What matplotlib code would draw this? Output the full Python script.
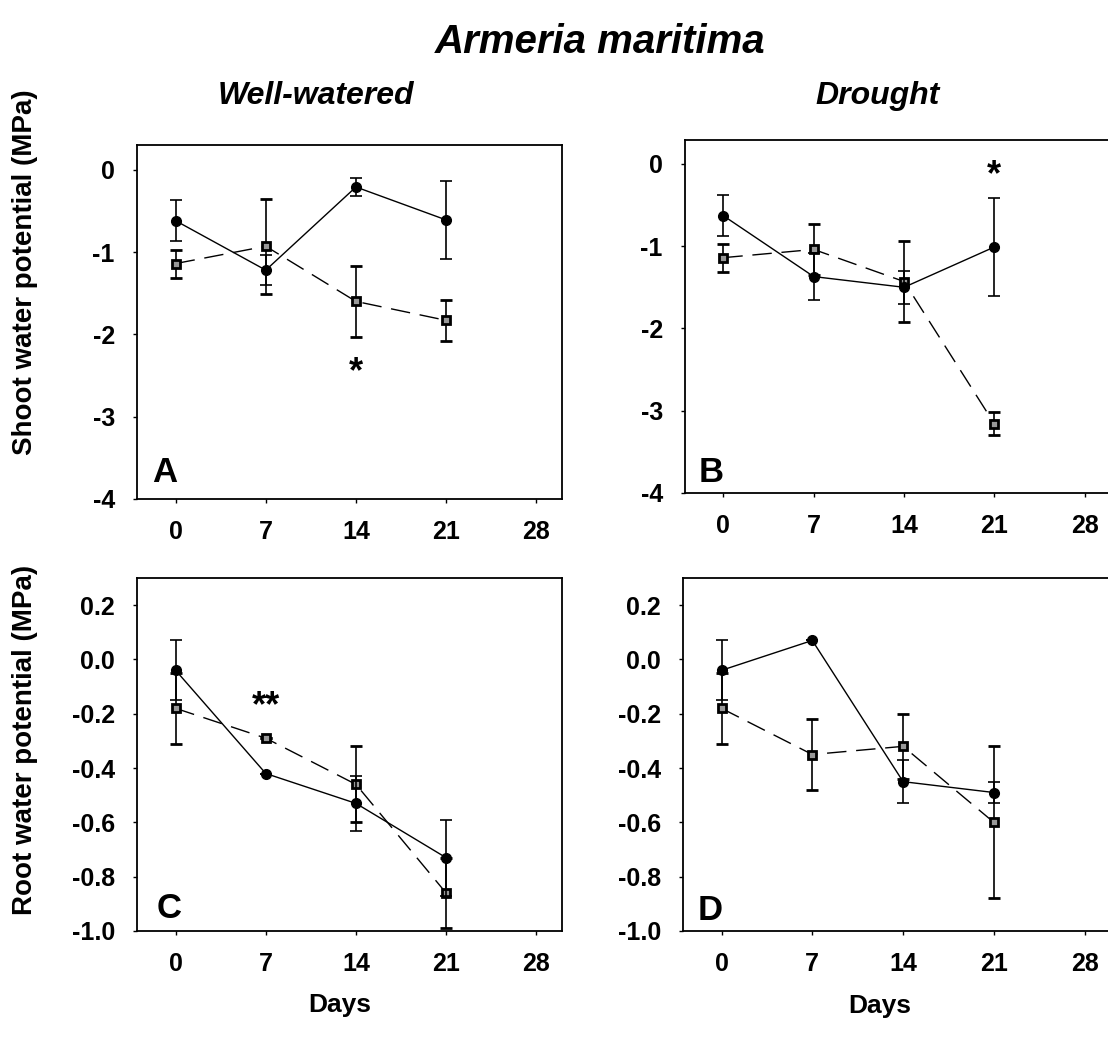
import numpy as np
import matplotlib.pyplot as plt

plt.rcParams['font.family'] = ['Liberation Sans', 'DejaVu Sans']
plt.rcParams['font.weight'] = 'bold'

# -------------------------
# DATA
# -------------------------
days = [0, 7, 14, 21]

# shoot water potential (MPa), well-watered
shoot_ww_ctrl = [-0.62, -1.22, -0.21, -0.61]
shoot_ww_ctrl_se = [0.25, 0.18, 0.11, 0.47]
shoot_ww_trt = [-1.14, -0.93, -1.60, -1.83]
shoot_ww_trt_se = [0.17, 0.58, 0.43, 0.25]

# shoot water potential (MPa), drought
shoot_dr_ctrl = [-0.63, -1.37, -1.50, -1.01]
shoot_dr_ctrl_se = [0.25, 0.29, 0.20, 0.60]
shoot_dr_trt = [-1.14, -1.04, -1.43, -3.16]
shoot_dr_trt_se = [0.17, 0.31, 0.49, 0.14]

# root water potential (MPa), well-watered
root_ww_ctrl = [-0.04, -0.42, -0.53, -0.73]
root_ww_ctrl_se = [0.11, 0.0, 0.10, 0.14]
root_ww_trt = [-0.18, -0.29, -0.46, -0.86]
root_ww_trt_se = [0.13, 0.0, 0.14, 0.13]

# root water potential (MPa), drought
root_dr_ctrl = [-0.04, 0.07, -0.45, -0.49]
root_dr_ctrl_se = [0.11, 0.0, 0.08, 0.04]
root_dr_trt = [-0.18, -0.35, -0.32, -0.60]
root_dr_trt_se = [0.13, 0.13, 0.12, 0.28]

x_ticks = [0, 7, 14, 21, 28]
shoot_ticks = [0, -1, -2, -3, -4]
root_ticks = [0.2, 0.0, -0.2, -0.4, -0.6, -0.8, -1.0]
shoot_lbl = ['0', '-1', '-2', '-3', '-4']
root_lbl = ['0.2', '0.0', '-0.2', '-0.4', '-0.6', '-0.8', '-1.0']

# -------------------------
# FIGURE
# -------------------------
W, H = 1108, 1044
fig = plt.figure(figsize=(W / 100, H / 100), dpi=100)


def rect(l, r, t, b):
    return [l / W, 1 - b / H, (r - l) / W, (b - t) / H]


def panel(box, xlim, ylim, yticks, ylabels, ctrl, ctrl_se, trt, trt_se, open_right=False):
    ax = fig.add_axes(rect(*box))
    ax.errorbar(days, trt, yerr=trt_se, color='black', lw=1.0, ls=(0, (14, 7)),
                marker='s', ms=6, mfc='#999999', mec='black', mew=2.0,
                capsize=4, elinewidth=1.2, capthick=1.2, zorder=3)
    ax.errorbar(days, ctrl, yerr=ctrl_se, color='black', lw=1.0, ls='-',
                marker='o', ms=7, mfc='black', mec='black',
                capsize=4, elinewidth=1.2, capthick=1.2, zorder=4)
    ax.set_xlim(*xlim)
    ax.set_ylim(*ylim)
    ax.set_xticks(x_ticks)
    ax.set_yticks(yticks)
    ax.set_yticklabels(ylabels)
    ax.tick_params(direction='out', length=3, width=1, labelsize=18, pad=12)
    ax.tick_params(axis='y', pad=13)
    for s in ax.spines.values():
        s.set_linewidth(1.3)
    if open_right:
        ax.spines['right'].set_visible(False)
    for lab in ax.get_xticklabels() + ax.get_yticklabels():
        lab.set_fontweight('bold')
    return ax


axA = panel((137, 562, 145, 499), (-3, 30), (-4, 0.3), shoot_ticks, shoot_lbl,
            shoot_ww_ctrl, shoot_ww_ctrl_se, shoot_ww_trt, shoot_ww_trt_se)
axB = panel((685, 1108, 140, 493), (-2.97, 29.8), (-4, 0.29), shoot_ticks, shoot_lbl,
            shoot_dr_ctrl, shoot_dr_ctrl_se, shoot_dr_trt, shoot_dr_trt_se, open_right=True)
axC = panel((137, 562, 578, 931), (-3, 30), (-1.0, 0.3), root_ticks, root_lbl,
            root_ww_ctrl, root_ww_ctrl_se, root_ww_trt, root_ww_trt_se)
axD = panel((683, 1108, 578, 931), (-2.97, 29.8), (-1.0, 0.3), root_ticks, root_lbl,
            root_dr_ctrl, root_dr_ctrl_se, root_dr_trt, root_dr_trt_se, open_right=True)

# significance marks
axA.text(14, -2.58, '*', ha='center', va='baseline', fontsize=26, fontweight='bold')
axB.text(21, -0.26, '*', ha='center', va='baseline', fontsize=26, fontweight='bold')
axC.text(7, -0.21, '**', ha='center', va='baseline', fontsize=26, fontweight='bold')

# panel letters
for x, y, s in [(165, 482, 'A'), (711, 482, 'B'), (169, 918, 'C'), (710, 920, 'D')]:
    fig.text(x / W, 1 - y / H, s, ha='center', va='baseline', fontsize=25, fontweight='bold')

# titles
fig.text(600 / W, 1 - 53 / H, 'Armeria maritima', ha='center', va='baseline',
         fontsize=29, fontweight='bold', style='italic')
fig.text(316 / W, 1 - 104 / H, 'Well-watered', ha='center', va='baseline',
         fontsize=23, fontweight='bold', style='italic')
fig.text(878 / W, 1 - 104 / H, 'Drought', ha='center', va='baseline',
         fontsize=23, fontweight='bold', style='italic')

# axis labels
fig.text(25 / W, 1 - 272 / H, 'Shoot water potential (MPa)', rotation=90,
         ha='center', va='center', fontsize=20, fontweight='bold')
fig.text(25 / W, 1 - 740 / H, 'Root water potential (MPa)', rotation=90,
         ha='center', va='center', fontsize=20, fontweight='bold')
fig.text(340 / W, 1 - 1005 / H, 'Days', ha='center', va='center', fontsize=19, fontweight='bold')
fig.text(880 / W, 1 - 1006 / H, 'Days', ha='center', va='center', fontsize=19, fontweight='bold')

fig.savefig('out.png', dpi=100)
